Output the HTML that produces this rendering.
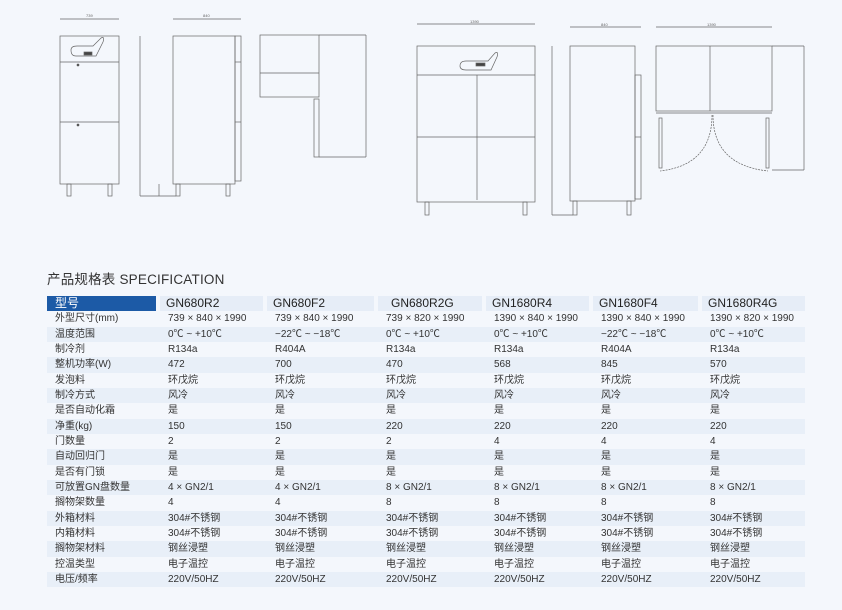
<!DOCTYPE html>
<html><head><meta charset="utf-8"><style>
body{margin:0;width:842px;height:610px;background:#f4f7fc;font-family:"Liberation Sans","Noto Sans CJK SC",sans-serif;position:relative;overflow:hidden}
svg{position:absolute;left:0;top:0}
.t{position:absolute;left:47px;top:268px;font-size:13.5px;color:#333;letter-spacing:0.2px}
table{position:absolute;left:47px;top:296px;border-collapse:collapse;font-size:10px;color:#333;table-layout:fixed;width:758px}
td{height:15.33px;padding:0 0 0 10px;line-height:15px;white-space:nowrap;overflow:hidden}
tr:nth-child(odd) td{background:#e8eff8}
tr.h td{background:#e6edf7;font-size:12px;color:#222;border-left:4px solid #f4f7fc;padding-left:6px}
tr.h td.b{background:#1c5aa6;color:#fff;padding-left:8px;border-left:none}
td.l{padding-left:8px}
</style></head><body>
<svg width="842" height="260" stroke="#666" stroke-width="0.7" fill="none" font-size="4" font-family="Liberation Sans">
<rect x="60" y="36" width="59" height="148"/><line x1="60" y1="62" x2="119" y2="62"/><line x1="60" y1="122" x2="119" y2="122"/>
<path d="M71 50 q0 -4 6 -4 h16 l8 -8 q4 -2 2 4 l-7 14 h-20 q-5 0 -5 -6z"/><rect x="84" y="52" width="8" height="3" fill="#444"/>
<circle cx="78" cy="65" r="1" fill="#333"/><circle cx="78" cy="125" r="1" fill="#333"/>
<rect x="67" y="184" width="4" height="12"/><rect x="108" y="184" width="4" height="12"/>
<line x1="60" y1="19" x2="119" y2="19"/><text x="86" y="17" fill="#666" stroke="none">739</text>
<rect x="173" y="36" width="62" height="148"/><rect x="235" y="36" width="6" height="145"/><line x1="235" y1="62" x2="241" y2="62"/><line x1="235" y1="122" x2="241" y2="122"/>
<rect x="176" y="184" width="4" height="12"/><rect x="226" y="184" width="4" height="12"/>
<line x1="173" y1="19" x2="241" y2="19"/><text x="203" y="17" fill="#666" stroke="none">840</text>
<line x1="140" y1="36" x2="140" y2="196"/><line x1="140" y1="196" x2="176" y2="196"/><line x1="159" y1="184" x2="159" y2="196"/>
<rect x="260" y="35" width="59" height="62"/><line x1="260" y1="73" x2="319" y2="73"/>
<rect x="314" y="99" width="5" height="58"/><line x1="319" y1="157" x2="366" y2="157"/><line x1="366" y1="35" x2="366" y2="157"/><line x1="319" y1="35" x2="366" y2="35"/>
<rect x="417" y="46" width="118" height="156"/><line x1="417" y1="75" x2="535" y2="75"/><line x1="477" y1="75" x2="477" y2="200"/><line x1="417" y1="137" x2="535" y2="137"/>
<path d="M460 66 q0 -5 6 -5 h22 l7 -8 q4 -2 2 4 l-6 13 h-25 q-6 0 -6 -4z"/><rect x="476" y="63" width="9" height="3" fill="#444"/>
<rect x="425" y="202" width="4" height="13"/><rect x="523" y="202" width="4" height="13"/>
<line x1="417" y1="24" x2="535" y2="24"/><text x="470" y="23" fill="#666" stroke="none">1390</text>
<rect x="570" y="46" width="65" height="155"/><rect x="635" y="75" width="6" height="124"/><line x1="635" y1="137" x2="641" y2="137"/>
<rect x="573" y="201" width="4" height="14"/><rect x="627" y="201" width="4" height="14"/>
<line x1="570" y1="27" x2="641" y2="27"/><text x="601" y="26" fill="#666" stroke="none">840</text>
<line x1="552" y1="46" x2="552" y2="215"/><line x1="552" y1="215" x2="573" y2="215"/>
<rect x="656" y="46" width="116" height="65"/><line x1="710" y1="46" x2="710" y2="111"/><line x1="656" y1="113" x2="772" y2="113"/>
<rect x="659" y="118" width="3" height="50"/><rect x="766" y="118" width="3" height="50"/>
<path d="M712 115 Q712 165 660 171" stroke-dasharray="2 1"/><path d="M713 115 Q713 165 768 171" stroke-dasharray="2 1"/>
<line x1="656" y1="27" x2="772" y2="27"/><text x="707" y="26" fill="#666" stroke="none">1390</text>
<line x1="804" y1="46" x2="804" y2="170"/><line x1="772" y1="170" x2="804" y2="170"/><line x1="772" y1="46" x2="804" y2="46"/>
</svg>
<div class="t">产品规格表 SPECIFICATION</div>
<table>
<colgroup><col style="width:111px"><col style="width:107px"><col style="width:111px"><col style="width:108px"><col style="width:107px"><col style="width:109px"><col style="width:105px"></colgroup>
<tr class="h"><td class="b">型号</td><td>GN680R2</td><td>GN680F2</td><td style="padding-left:13px">GN680R2G</td><td>GN1680R4</td><td>GN1680F4</td><td>GN1680R4G</td></tr>
<tr><td class="l">外型尺寸(mm)</td><td>739 × 840 × 1990</td><td>739 × 840 × 1990</td><td>739 × 820 × 1990</td><td>1390 × 840 × 1990</td><td>1390 × 840 × 1990</td><td>1390 × 820 × 1990</td></tr>
<tr><td class="l">温度范围</td><td>0℃ ~ +10℃</td><td>−22℃ ~ −18℃</td><td>0℃ ~ +10℃</td><td>0℃ ~ +10℃</td><td>−22℃ ~ −18℃</td><td>0℃ ~ +10℃</td></tr>
<tr><td class="l">制冷剂</td><td>R134a</td><td>R404A</td><td>R134a</td><td>R134a</td><td>R404A</td><td>R134a</td></tr>
<tr><td class="l">整机功率(W)</td><td>472</td><td>700</td><td>470</td><td>568</td><td>845</td><td>570</td></tr>
<tr><td class="l">发泡料</td><td>环戊烷</td><td>环戊烷</td><td>环戊烷</td><td>环戊烷</td><td>环戊烷</td><td>环戊烷</td></tr>
<tr><td class="l">制冷方式</td><td>风冷</td><td>风冷</td><td>风冷</td><td>风冷</td><td>风冷</td><td>风冷</td></tr>
<tr><td class="l">是否自动化霜</td><td>是</td><td>是</td><td>是</td><td>是</td><td>是</td><td>是</td></tr>
<tr><td class="l">净重(kg)</td><td>150</td><td>150</td><td>220</td><td>220</td><td>220</td><td>220</td></tr>
<tr><td class="l">门数量</td><td>2</td><td>2</td><td>2</td><td>4</td><td>4</td><td>4</td></tr>
<tr><td class="l">自动回归门</td><td>是</td><td>是</td><td>是</td><td>是</td><td>是</td><td>是</td></tr>
<tr><td class="l">是否有门锁</td><td>是</td><td>是</td><td>是</td><td>是</td><td>是</td><td>是</td></tr>
<tr><td class="l">可放置GN盘数量</td><td>4 × GN2/1</td><td>4 × GN2/1</td><td>8 × GN2/1</td><td>8 × GN2/1</td><td>8 × GN2/1</td><td>8 × GN2/1</td></tr>
<tr><td class="l">搁物架数量</td><td>4</td><td>4</td><td>8</td><td>8</td><td>8</td><td>8</td></tr>
<tr><td class="l">外箱材料</td><td>304#不锈钢</td><td>304#不锈钢</td><td>304#不锈钢</td><td>304#不锈钢</td><td>304#不锈钢</td><td>304#不锈钢</td></tr>
<tr><td class="l">内箱材料</td><td>304#不锈钢</td><td>304#不锈钢</td><td>304#不锈钢</td><td>304#不锈钢</td><td>304#不锈钢</td><td>304#不锈钢</td></tr>
<tr><td class="l">搁物架材料</td><td>钢丝浸塑</td><td>钢丝浸塑</td><td>钢丝浸塑</td><td>钢丝浸塑</td><td>钢丝浸塑</td><td>钢丝浸塑</td></tr>
<tr><td class="l">控温类型</td><td>电子温控</td><td>电子温控</td><td>电子温控</td><td>电子温控</td><td>电子温控</td><td>电子温控</td></tr>
<tr><td class="l">电压/频率</td><td>220V/50HZ</td><td>220V/50HZ</td><td>220V/50HZ</td><td>220V/50HZ</td><td>220V/50HZ</td><td>220V/50HZ</td></tr>
</table>
</body></html>
